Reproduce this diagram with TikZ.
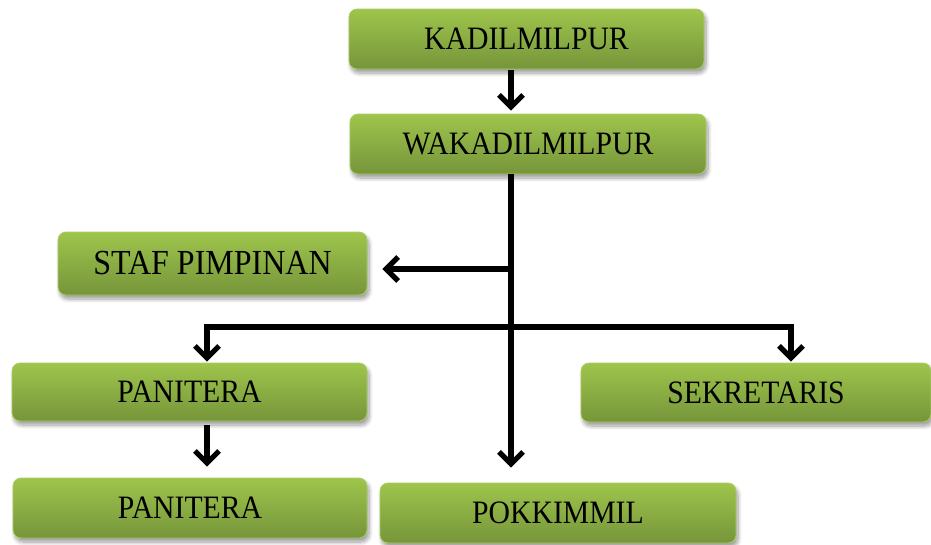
\documentclass[tikz,border=0pt]{standalone}
\usepackage{fontspec}
\usepackage{graphicx}
\setmainfont{Liberation Serif}
\usetikzlibrary{arrows.meta,shadows.blur}
\definecolor{gtop}{RGB}{158,197,76}
\definecolor{gbot}{RGB}{118,149,58}
\definecolor{gedge}{RGB}{170,205,100}
\newcommand\lbl[1]{\scalebox{1}[1.1]{#1}}
\tikzset{
  orgbox/.style={rounded corners=8pt, draw=gedge, line width=0.8pt,
    top color=gtop, bottom color=gbot, inner sep=0pt, align=center,
    font=\fontsize{29.7}{34}\selectfont,
    blur shadow={shadow xshift=2pt, shadow yshift=-4pt, shadow blur steps=8, shadow blur radius=4pt, shadow opacity=40}},
  arr/.style={line width=5.2pt, -{Straight Barb[length=12pt,width=24pt]}},
}
\begin{document}
\begin{tikzpicture}[x=1pt,y=-1pt]
\useasboundingbox (0,0) rectangle (931,544);
\node[orgbox, minimum width=355pt, minimum height=60pt] (k) at (526.5,39) {\lbl{KADILMILPUR}};
\node[orgbox, minimum width=356pt, minimum height=60pt] (w) at (528,144) {\lbl{WAKADILMILPUR}};
\node[orgbox, minimum width=309pt, minimum height=63pt, font=\fontsize{32}{36}\selectfont] (staf) at (212.5,263.5) {\lbl{STAF PIMPINAN}};
\node[orgbox, minimum width=355pt, minimum height=58pt] (pan1) at (189.5,392) {\lbl{PANITERA}};
\node[orgbox, minimum width=350pt, minimum height=59pt] (sek) at (756,392.5) {\lbl{SEKRETARIS}};
\node[orgbox, minimum width=354pt, minimum height=60pt] (pan2) at (190,508) {\lbl{PANITERA}};
\node[orgbox, minimum width=356pt, minimum height=60pt] (pk) at (558,513) {\lbl{POKKIMMIL}};
\coordinate (tx) at (511,0);
\coordinate (j1) at (511,269);
\coordinate (j2) at (511,327);
\coordinate (lx) at (207,0);
\coordinate (rx) at (791,0);
\draw[arr, shorten <=1pt, shorten >=3pt] (k.south -| tx) -- (w.north -| tx);
\draw[arr, shorten >=15pt] (w.south -| tx) -- (pk.north -| tx);
\draw[arr, shorten >=15pt] (j1) -- (j1 -| staf.east);
\draw[arr, shorten >=1pt] (j2) -| (pan1.north -| lx);
\draw[arr, shorten >=1pt] (j2) -| (sek.north -| rx);
\draw[arr, shorten <=4pt, shorten >=11pt] (pan1.south -| lx) -- (pan2.north -| lx);
\end{tikzpicture}
\end{document}
